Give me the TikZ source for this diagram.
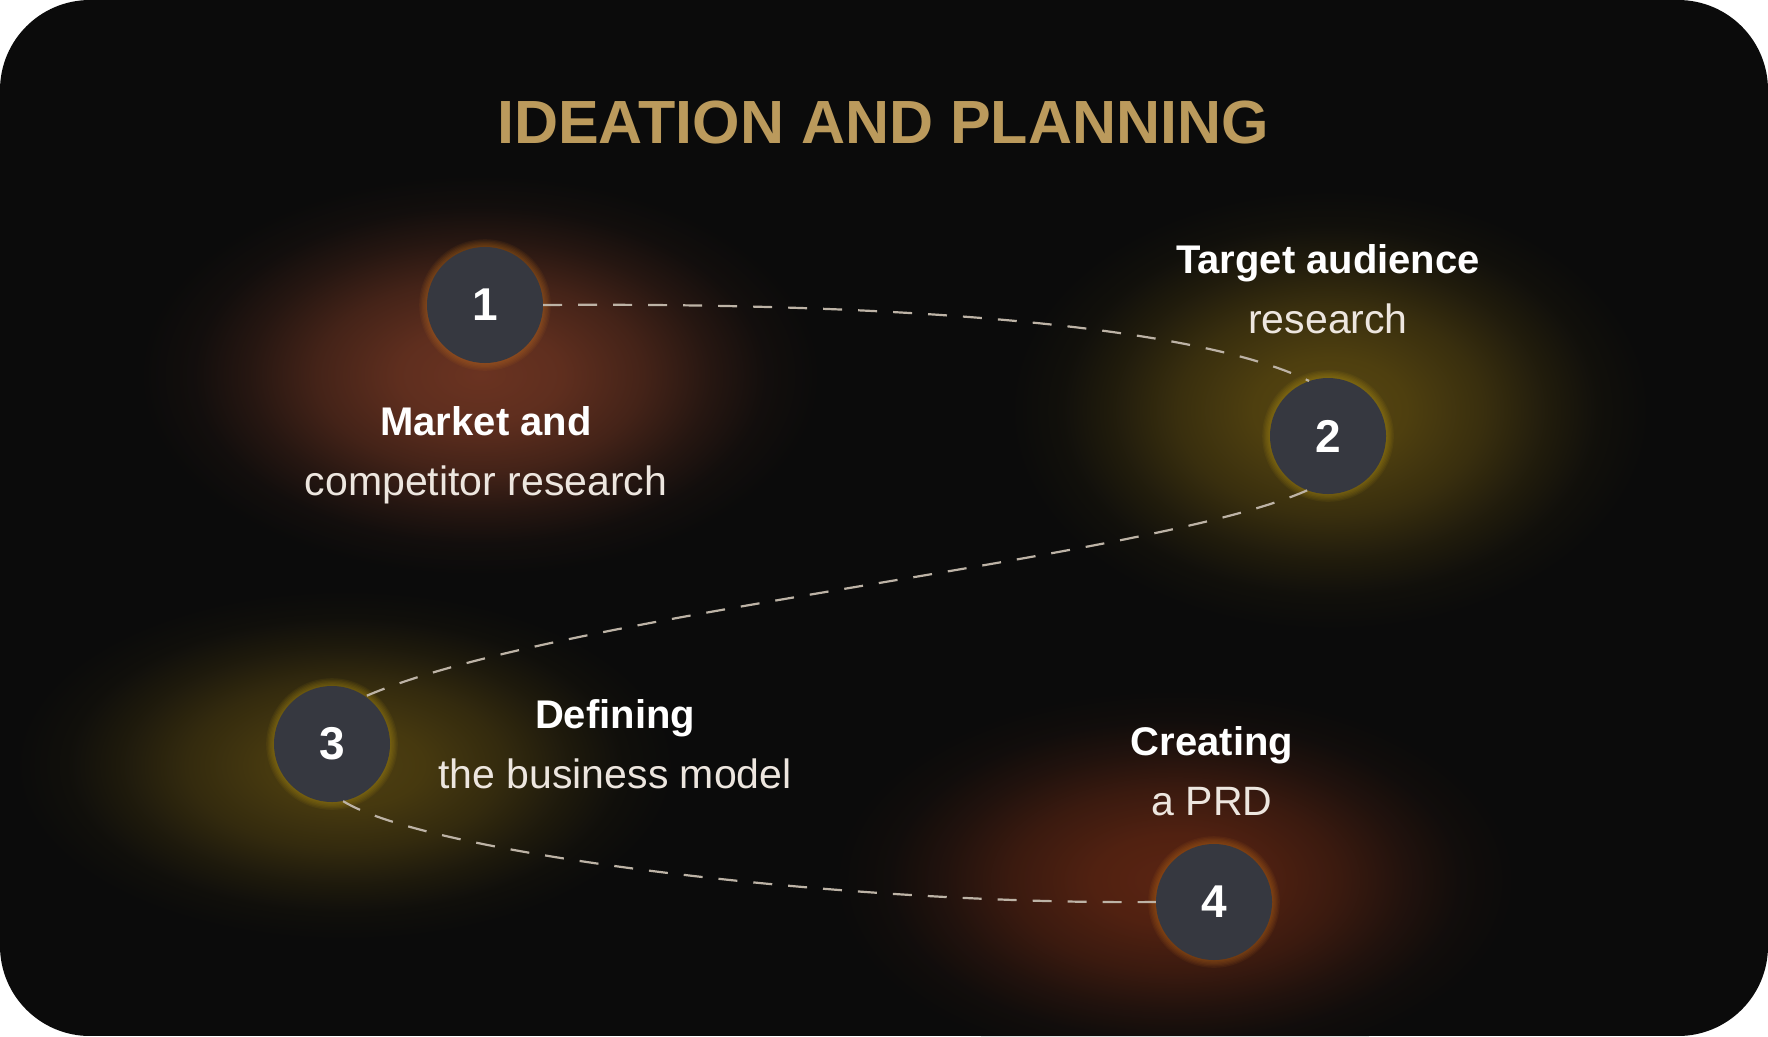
\documentclass[tikz,border=0pt]{standalone}
\usepackage{fontspec}
\setmainfont{Liberation Sans}
\usetikzlibrary{positioning}

\definecolor{bgc}{HTML}{0B0B0B}
\definecolor{disc}{HTML}{363840}
\definecolor{gold}{HTML}{BB9A5C}
\definecolor{dashc}{HTML}{BDB3A6}
\definecolor{soft}{HTML}{EDE6DF}
\definecolor{haloA}{HTML}{C8741E}
\definecolor{haloB}{HTML}{BE9C16}
\definecolor{blobA}{HTML}{6A3321}
\definecolor{blobB}{HTML}{574610}
\definecolor{blobC}{HTML}{4E3F10}
\definecolor{blobD}{HTML}{5A2412}

% soft glow: full colour in the middle, fading out well before the rim
\newcommand\glowdef[2]{%
  \colorlet{#1p}{#2!88!bgc}\colorlet{#1m}{#2!60!bgc}%
  \colorlet{#1l}{#2!28!bgc}\colorlet{#1t}{#2!8!bgc}%
  \pgfdeclareradialshading{#1}{\pgfpointorigin}{color(0bp)=(#2); color(6bp)=(#1p); color(12bp)=(#1m); color(17bp)=(#1l); color(21bp)=(#1t); color(25bp)=(bgc); color(50bp)=(bgc)}}
\glowdef{glowA}{blobA}
\glowdef{glowB}{blobB}
\glowdef{glowC}{blobC}
\glowdef{glowD}{blobD}

\begin{document}
\begin{tikzpicture}[x=1pt,y=-1pt,
  stepdisc/.style={circle,fill=disc,minimum size=116pt,inner sep=0pt,text=white,font=\fontsize{46}{46}\selectfont\bfseries},
  headline/.style={anchor=base,text=white,font=\fontsize{40}{48}\selectfont\bfseries},
  subline/.style={anchor=base,text=soft,font=\fontsize{41}{48}\selectfont},
  trail/.style={dashc,line width=2.2pt,dash pattern=on 19pt off 16pt}]
 \useasboundingbox (0,0) rectangle (1768,1036);
 \fill[white] (0,0) rectangle (1768,1036);
 \begin{scope}
  \clip[rounded corners=90pt] (0,0) rectangle (1768,1036);
  \fill[bgc] (0,0) rectangle (1768,1036);
  \shade[shading=glowA] (480,375) ellipse [x radius=340pt,y radius=200pt];
  \shade[shading=glowB] (1330,410) ellipse [x radius=320pt,y radius=220pt];
  \shade[shading=glowC] (345,765) ellipse [x radius=330pt,y radius=175pt];
  \shade[shading=glowD] (1175,880) ellipse [x radius=340pt,y radius=190pt];
 \end{scope}

 % halos round the discs
 \foreach \px/\py/\h in {485/305/haloA,1328/436/haloB,332/744/haloB,1214/902/haloA}
  \foreach \k in {1,...,6}
   \fill[\h,opacity=0.08] (\px,\py) circle [radius=58pt+1.3pt*\k];

 \node[text=gold,font=\fontsize{61}{61}\selectfont\bfseries,anchor=base] (title) at (883,143) {IDEATION AND PLANNING};

 \node[stepdisc] (n1) at (485,305) {1};
 \node[stepdisc] (n2) at (1328,436) {2};
 \node[stepdisc] (n3) at (332,744) {3};
 \node[stepdisc] (n4) at (1214,902) {4};

 \draw[trail] (n1.east) .. controls (950,302) and (1210,332) .. (n2.109);
 \draw[trail] (n2.249) .. controls (1150,560) and (560,612) .. (n3.55);
 \draw[trail] (n3.281) .. controls (430,855) and (850,905) .. (n4.west);

 \node[headline] (h1) at (486,435) {Market and};
 \node[subline] (s1) at (486,495) {competitor research};
 \node[headline] (h2) at (1328,273) {Target audience};
 \node[subline] (s2) at (1328,333) {research};
 \node[headline] (h3) at (615,728) {Defining};
 \node[subline] (s3) at (615,788) {the business model};
 \node[headline] (h4) at (1212,755) {Creating};
 \node[subline] (s4) at (1212,815) {a PRD};
\end{tikzpicture}
\end{document}
